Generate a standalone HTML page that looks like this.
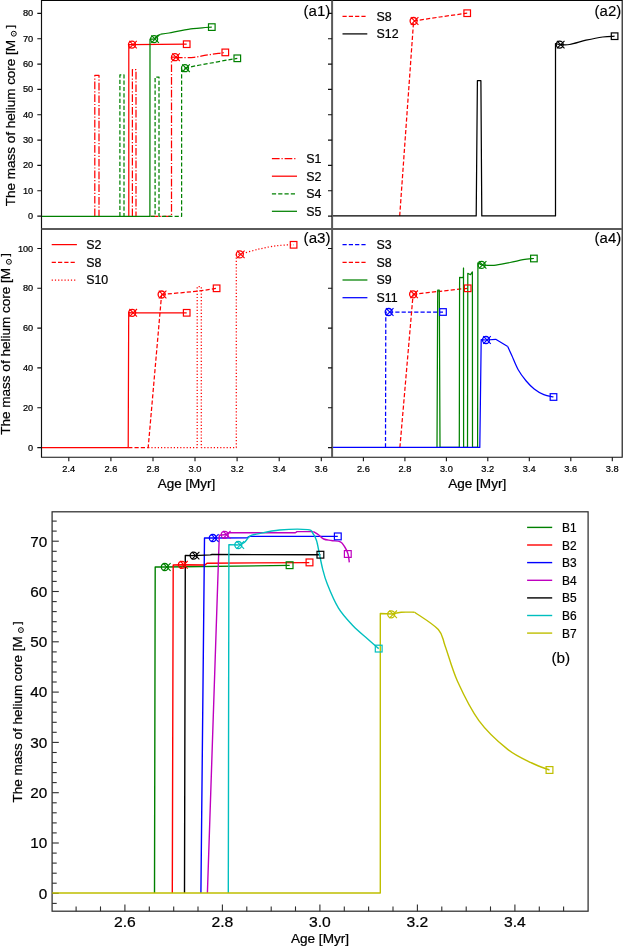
<!DOCTYPE html><html><head><meta charset="utf-8"><style>html,body{margin:0;padding:0;background:#fff;overflow:hidden;}svg{display:block;will-change:transform;} text{font-family:"Liberation Sans", sans-serif;stroke:#000;stroke-width:0.22px;}</style></head><body>
<svg width="623" height="946" viewBox="0 0 623 946">
<rect width="623" height="946" fill="#fff"/>
<defs>
<clipPath id="c1"><rect x="41.5" y="0.5" width="290.6" height="228.5"/></clipPath>
<clipPath id="c2"><rect x="332.1" y="0.5" width="290.1" height="228.5"/></clipPath>
<clipPath id="c3"><rect x="41.5" y="229.0" width="290.6" height="228.2"/></clipPath>
<clipPath id="c4"><rect x="332.1" y="229.0" width="290.1" height="228.2"/></clipPath>
<clipPath id="cb"><rect x="52.1" y="511.8" width="536" height="399.4"/></clipPath>
</defs>
<path d="M94.8,216.3 L94.8,75.4 L99.0,75.4 L99.0,216.3" fill="none" stroke="#ff0000" stroke-width="1.25" stroke-linejoin="round" stroke-dasharray="7.7,1.9,1.2,1.9" clip-path="url(#c1)"/>
<path d="M132.4,216.3 L132.4,69.6 L136.0,69.6 L136.0,216.3" fill="none" stroke="#ff0000" stroke-width="1.25" stroke-linejoin="round" stroke-dasharray="7.7,1.9,1.2,1.9" clip-path="url(#c1)"/>
<path d="M150.6,216.3 L171.5,216.3 L171.5,57.2 L175.0,57.2" fill="none" stroke="#ff0000" stroke-width="1.25" stroke-linejoin="round" stroke-dasharray="7.7,1.9,1.2,1.9" clip-path="url(#c1)"/>
<path d="M175.0,57.2 C176.2,57.3 178.8,57.6 182.0,57.6 C185.2,57.6 190.0,57.7 194.0,57.3 C198.0,56.9 202.1,55.9 206.1,55.2 C210.1,54.6 215.0,53.9 218.2,53.4 C221.4,52.9 224.1,52.6 225.3,52.5" fill="none" stroke="#ff0000" stroke-width="1.25" stroke-linejoin="round" stroke-dasharray="7.7,1.9,1.2,1.9" clip-path="url(#c1)"/>
<path d="M128.8,216.3 L128.8,44.6 L132.0,44.6 L186.7,44.2" fill="none" stroke="#ff0000" stroke-width="1.25" stroke-linejoin="round" clip-path="url(#c1)"/>
<path d="M119.9,216.3 L119.9,74.9 L124.0,74.9 L124.0,216.3" fill="none" stroke="#008000" stroke-width="1.25" stroke-linejoin="round" stroke-dasharray="4.2,2.1" clip-path="url(#c1)"/>
<path d="M150.6,216.3 L155.1,216.3 L155.1,77.1 L159.0,77.1 L159.0,216.3 L181.6,216.3 L181.6,68.4 L185.0,68.2" fill="none" stroke="#008000" stroke-width="1.25" stroke-linejoin="round" stroke-dasharray="4.2,2.1" clip-path="url(#c1)"/>
<path d="M185.0,68.2 C187.5,67.7 191.3,66.7 200.0,65.0 C208.7,63.4 231.1,59.4 237.3,58.3" fill="none" stroke="#008000" stroke-width="1.25" stroke-linejoin="round" stroke-dasharray="4.2,2.1" clip-path="url(#c1)"/>
<path d="M41.5,216.3 L149.9,216.3 L150.0,39.2 L154.1,39.1" fill="none" stroke="#008000" stroke-width="1.25" stroke-linejoin="round" clip-path="url(#c1)"/>
<path d="M154.1,39.1 L157.0,35.8 L160.6,34.3" fill="none" stroke="#008000" stroke-width="1.25" stroke-linejoin="round" clip-path="url(#c1)"/>
<path d="M160.6,34.3 C162.0,34.1 165.6,33.6 169.0,33.0 C172.4,32.4 177.1,31.3 181.1,30.6 C185.1,29.9 189.1,29.2 193.1,28.7 C197.1,28.2 202.1,27.8 205.2,27.5 C208.3,27.2 210.7,27.2 211.8,27.2" fill="none" stroke="#008000" stroke-width="1.25" stroke-linejoin="round" clip-path="url(#c1)"/>
<circle cx="175.0" cy="57.2" r="3.5" fill="none" stroke="#ff0000" stroke-width="1.3"/>
<path d="M172.2,53.4 L179.8,61.0 M172.2,61.0 L179.8,53.4" stroke="#ff0000" stroke-width="1.105" fill="none"/>
<rect x="222.0" y="49.1" width="6.6" height="6.6" fill="none" stroke="#ff0000" stroke-width="1.2"/>
<circle cx="132.0" cy="44.6" r="3.5" fill="none" stroke="#ff0000" stroke-width="1.3"/>
<path d="M129.2,40.8 L136.8,48.4 M129.2,48.4 L136.8,40.8" stroke="#ff0000" stroke-width="1.105" fill="none"/>
<rect x="183.4" y="40.9" width="6.6" height="6.6" fill="none" stroke="#ff0000" stroke-width="1.2"/>
<circle cx="185.0" cy="68.2" r="3.5" fill="none" stroke="#008000" stroke-width="1.3"/>
<path d="M182.2,64.4 L189.8,72.0 M182.2,72.0 L189.8,64.4" stroke="#008000" stroke-width="1.105" fill="none"/>
<rect x="234.0" y="55.0" width="6.6" height="6.6" fill="none" stroke="#008000" stroke-width="1.2"/>
<circle cx="154.1" cy="39.1" r="3.5" fill="none" stroke="#008000" stroke-width="1.3"/>
<path d="M151.3,35.3 L158.9,42.9 M151.3,42.9 L158.9,35.3" stroke="#008000" stroke-width="1.105" fill="none"/>
<rect x="208.5" y="23.8" width="6.6" height="6.6" fill="none" stroke="#008000" stroke-width="1.2"/>
<path d="M399.7,215.9 L413.6,21.0" fill="none" stroke="#ff0000" stroke-width="1.25" stroke-linejoin="round" stroke-dasharray="4.2,2.1" clip-path="url(#c2)"/>
<path d="M413.6,21.0 C418.0,20.3 431.1,18.3 440.0,17.0 C448.9,15.7 462.7,13.8 467.2,13.2" fill="none" stroke="#ff0000" stroke-width="1.25" stroke-linejoin="round" stroke-dasharray="4.2,2.1" clip-path="url(#c2)"/>
<path d="M332.1,215.9 L476.2,215.9 L477.4,80.7 L480.9,80.7 L481.8,215.9 L555.5,215.9 L555.5,43.5 L559.7,44.6" fill="none" stroke="#000000" stroke-width="1.25" stroke-linejoin="round" clip-path="url(#c2)"/>
<path d="M559.7,44.6 C561.4,44.6 565.2,45.2 569.6,44.5 C574.0,43.8 580.5,41.5 586.0,40.2 C591.5,39.0 597.9,37.7 602.7,37.0 C607.5,36.3 612.6,36.3 614.6,36.2" fill="none" stroke="#000000" stroke-width="1.25" stroke-linejoin="round" clip-path="url(#c2)"/>
<circle cx="413.6" cy="21.0" r="3.5" fill="none" stroke="#ff0000" stroke-width="1.3"/>
<path d="M410.8,17.2 L418.4,24.8 M410.8,24.8 L418.4,17.2" stroke="#ff0000" stroke-width="1.105" fill="none"/>
<rect x="463.9" y="9.9" width="6.6" height="6.6" fill="none" stroke="#ff0000" stroke-width="1.2"/>
<circle cx="559.7" cy="44.6" r="3.5" fill="none" stroke="#000000" stroke-width="1.3"/>
<path d="M556.9,40.8 L564.5,48.4 M556.9,48.4 L564.5,40.8" stroke="#000000" stroke-width="1.105" fill="none"/>
<rect x="611.3" y="32.9" width="6.6" height="6.6" fill="none" stroke="#000000" stroke-width="1.2"/>
<path d="M41.5,447.5 L128.2,447.5 L128.7,312.6 L132.2,312.8 L186.7,312.8" fill="none" stroke="#ff0000" stroke-width="1.25" stroke-linejoin="round" clip-path="url(#c3)"/>
<path d="M128.2,447.5 L148.2,447.5 L161.6,294.5" fill="none" stroke="#ff0000" stroke-width="1.25" stroke-linejoin="round" stroke-dasharray="4.2,2.1" clip-path="url(#c3)"/>
<path d="M161.6,294.5 C167.6,293.9 188.1,292.2 197.3,291.2 C206.5,290.2 213.4,288.8 216.6,288.3" fill="none" stroke="#ff0000" stroke-width="1.25" stroke-linejoin="round" stroke-dasharray="4.2,2.1" clip-path="url(#c3)"/>
<path d="M148.2,447.5 L197.2,447.5 L197.2,286.7 L201.3,286.7 L201.3,447.5 L236.3,447.5 L236.3,254.4 L239.8,254.4" fill="none" stroke="#ff0000" stroke-width="1.25" stroke-linejoin="round" stroke-dasharray="1.2,2.0" clip-path="url(#c3)"/>
<path d="M239.8,254.4 C242.9,253.5 252.2,250.7 258.5,249.2 C264.8,247.7 271.9,246.3 277.8,245.6 C283.7,244.9 291.0,244.9 293.6,244.8" fill="none" stroke="#ff0000" stroke-width="1.25" stroke-linejoin="round" stroke-dasharray="1.2,2.0" clip-path="url(#c3)"/>
<circle cx="132.2" cy="312.8" r="3.5" fill="none" stroke="#ff0000" stroke-width="1.3"/>
<path d="M129.4,309.0 L137.0,316.6 M129.4,316.6 L137.0,309.0" stroke="#ff0000" stroke-width="1.105" fill="none"/>
<rect x="183.4" y="309.5" width="6.6" height="6.6" fill="none" stroke="#ff0000" stroke-width="1.2"/>
<circle cx="161.6" cy="294.5" r="3.5" fill="none" stroke="#ff0000" stroke-width="1.3"/>
<path d="M158.8,290.7 L166.4,298.3 M158.8,298.3 L166.4,290.7" stroke="#ff0000" stroke-width="1.105" fill="none"/>
<rect x="213.3" y="285.0" width="6.6" height="6.6" fill="none" stroke="#ff0000" stroke-width="1.2"/>
<circle cx="239.8" cy="254.4" r="3.5" fill="none" stroke="#ff0000" stroke-width="1.3"/>
<path d="M237.0,250.6 L244.6,258.2 M237.0,258.2 L244.6,250.6" stroke="#ff0000" stroke-width="1.105" fill="none"/>
<rect x="290.3" y="241.5" width="6.6" height="6.6" fill="none" stroke="#ff0000" stroke-width="1.2"/>
<path d="M385.5,447.4 L385.8,312.0 L388.7,312.0 L443.0,312.0" fill="none" stroke="#0000ff" stroke-width="1.25" stroke-linejoin="round" stroke-dasharray="4.2,2.1" clip-path="url(#c4)"/>
<path d="M399.9,447.4 L413.1,294.3" fill="none" stroke="#ff0000" stroke-width="1.25" stroke-linejoin="round" stroke-dasharray="4.2,2.1" clip-path="url(#c4)"/>
<path d="M413.1,294.3 C417.6,293.8 430.9,292.3 440.0,291.3 C449.1,290.3 463.1,288.8 467.7,288.3" fill="none" stroke="#ff0000" stroke-width="1.25" stroke-linejoin="round" stroke-dasharray="4.2,2.1" clip-path="url(#c4)"/>
<path d="M437.0,447.4 L437.7,290.2 L439.3,290.2 L440.0,447.4 L459.3,447.4 L459.6,277.4 L462.4,277.6 L463.4,276.6 L463.5,268.0 L463.6,447.4 L467.5,447.4 L467.8,273.3 L470.5,274.7 L472.4,271.9 L472.5,447.4 L477.6,447.4 L477.9,262.9 L481.6,264.9" fill="none" stroke="#008000" stroke-width="1.25" stroke-linejoin="round" clip-path="url(#c4)"/>
<path d="M481.6,264.9 C483.7,265.0 489.3,265.8 494.0,265.4 C498.7,265.0 505.2,263.4 510.0,262.5 C514.8,261.6 519.0,260.4 523.0,259.7 C527.0,259.0 532.1,258.7 533.9,258.5" fill="none" stroke="#008000" stroke-width="1.25" stroke-linejoin="round" clip-path="url(#c4)"/>
<path d="M332.1,447.4 L479.8,447.4 L481.2,339.6 L486.0,340.0" fill="none" stroke="#0000ff" stroke-width="1.25" stroke-linejoin="round" clip-path="url(#c4)"/>
<path d="M486.0,340.0 L495.7,339.3 L507.7,346.5" fill="none" stroke="#0000ff" stroke-width="1.25" stroke-linejoin="round" clip-path="url(#c4)"/>
<path d="M507.7,346.5 C508.4,348.0 509.9,351.4 511.7,355.3 C513.5,359.2 515.8,365.5 518.2,369.8 C520.6,374.1 523.5,377.8 526.2,381.0 C528.9,384.2 531.3,386.7 534.2,389.0 C537.1,391.3 540.6,393.3 543.8,394.6 C547.0,395.9 551.9,396.6 553.5,397.0" fill="none" stroke="#0000ff" stroke-width="1.25" stroke-linejoin="round" clip-path="url(#c4)"/>
<circle cx="388.7" cy="312.0" r="3.5" fill="none" stroke="#0000ff" stroke-width="1.3"/>
<path d="M385.9,308.2 L393.5,315.8 M385.9,315.8 L393.5,308.2" stroke="#0000ff" stroke-width="1.105" fill="none"/>
<rect x="439.7" y="308.7" width="6.6" height="6.6" fill="none" stroke="#0000ff" stroke-width="1.2"/>
<circle cx="413.1" cy="294.3" r="3.5" fill="none" stroke="#ff0000" stroke-width="1.3"/>
<path d="M410.3,290.5 L417.9,298.1 M410.3,298.1 L417.9,290.5" stroke="#ff0000" stroke-width="1.105" fill="none"/>
<rect x="464.4" y="285.0" width="6.6" height="6.6" fill="none" stroke="#ff0000" stroke-width="1.2"/>
<circle cx="481.6" cy="264.9" r="3.5" fill="none" stroke="#008000" stroke-width="1.3"/>
<path d="M478.8,261.1 L486.4,268.7 M478.8,268.7 L486.4,261.1" stroke="#008000" stroke-width="1.105" fill="none"/>
<rect x="530.6" y="255.2" width="6.6" height="6.6" fill="none" stroke="#008000" stroke-width="1.2"/>
<circle cx="486.0" cy="340.0" r="3.5" fill="none" stroke="#0000ff" stroke-width="1.3"/>
<path d="M483.2,336.2 L490.8,343.8 M483.2,343.8 L490.8,336.2" stroke="#0000ff" stroke-width="1.105" fill="none"/>
<rect x="550.2" y="393.7" width="6.6" height="6.6" fill="none" stroke="#0000ff" stroke-width="1.2"/>
<path d="M41.5,0.5 L622.2,0.5 L622.2,457.2 L41.5,457.2 Z" fill="none" stroke="#111" stroke-width="1.15"/>
<path d="M41.5,0 L622.2,0.0" stroke="#000" stroke-width="1.6"/>
<path d="M332.1,0.5 L332.1,457.2 M41.5,229.0 L622.2,229.0" stroke="#5a5a5a" stroke-width="2"/>
<path d="M37.3,216.1 L41.5,216.1 M328,216.1 L332.1,216.1" stroke="#111" stroke-width="1.1"/>
<text x="33.2" y="219.1" font-size="9.00" text-anchor="end" fill="#000" textLength="5.1" lengthAdjust="spacingAndGlyphs">0</text>
<path d="M37.3,190.8 L41.5,190.8 M328,190.8 L332.1,190.8" stroke="#111" stroke-width="1.1"/>
<text x="33.2" y="193.8" font-size="9.00" text-anchor="end" fill="#000" textLength="10.3" lengthAdjust="spacingAndGlyphs">10</text>
<path d="M37.3,165.4 L41.5,165.4 M328,165.4 L332.1,165.4" stroke="#111" stroke-width="1.1"/>
<text x="33.2" y="168.4" font-size="9.00" text-anchor="end" fill="#000" textLength="10.3" lengthAdjust="spacingAndGlyphs">20</text>
<path d="M37.3,140.1 L41.5,140.1 M328,140.1 L332.1,140.1" stroke="#111" stroke-width="1.1"/>
<text x="33.2" y="143.1" font-size="9.00" text-anchor="end" fill="#000" textLength="10.3" lengthAdjust="spacingAndGlyphs">30</text>
<path d="M37.3,114.7 L41.5,114.7 M328,114.7 L332.1,114.7" stroke="#111" stroke-width="1.1"/>
<text x="33.2" y="117.7" font-size="9.00" text-anchor="end" fill="#000" textLength="10.3" lengthAdjust="spacingAndGlyphs">40</text>
<path d="M37.3,89.4 L41.5,89.4 M328,89.4 L332.1,89.4" stroke="#111" stroke-width="1.1"/>
<text x="33.2" y="92.4" font-size="9.00" text-anchor="end" fill="#000" textLength="10.3" lengthAdjust="spacingAndGlyphs">50</text>
<path d="M37.3,64.1 L41.5,64.1 M328,64.1 L332.1,64.1" stroke="#111" stroke-width="1.1"/>
<text x="33.2" y="67.1" font-size="9.00" text-anchor="end" fill="#000" textLength="10.3" lengthAdjust="spacingAndGlyphs">60</text>
<path d="M37.3,38.7 L41.5,38.7 M328,38.7 L332.1,38.7" stroke="#111" stroke-width="1.1"/>
<text x="33.2" y="41.7" font-size="9.00" text-anchor="end" fill="#000" textLength="10.3" lengthAdjust="spacingAndGlyphs">70</text>
<path d="M37.3,13.4 L41.5,13.4 M328,13.4 L332.1,13.4" stroke="#111" stroke-width="1.1"/>
<text x="33.2" y="16.4" font-size="9.00" text-anchor="end" fill="#000" textLength="10.3" lengthAdjust="spacingAndGlyphs">80</text>
<path d="M37.3,447.6 L41.5,447.6 M328,447.6 L332.1,447.6" stroke="#111" stroke-width="1.1"/>
<text x="33.2" y="450.6" font-size="9.00" text-anchor="end" fill="#000" textLength="5.1" lengthAdjust="spacingAndGlyphs">0</text>
<path d="M37.3,407.8 L41.5,407.8 M328,407.8 L332.1,407.8" stroke="#111" stroke-width="1.1"/>
<text x="33.2" y="410.8" font-size="9.00" text-anchor="end" fill="#000" textLength="10.2" lengthAdjust="spacingAndGlyphs">20</text>
<path d="M37.3,367.9 L41.5,367.9 M328,367.9 L332.1,367.9" stroke="#111" stroke-width="1.1"/>
<text x="33.2" y="370.9" font-size="9.00" text-anchor="end" fill="#000" textLength="10.2" lengthAdjust="spacingAndGlyphs">40</text>
<path d="M37.3,328.1 L41.5,328.1 M328,328.1 L332.1,328.1" stroke="#111" stroke-width="1.1"/>
<text x="33.2" y="331.1" font-size="9.00" text-anchor="end" fill="#000" textLength="10.2" lengthAdjust="spacingAndGlyphs">60</text>
<path d="M37.3,288.3 L41.5,288.3 M328,288.3 L332.1,288.3" stroke="#111" stroke-width="1.1"/>
<text x="33.2" y="291.3" font-size="9.00" text-anchor="end" fill="#000" textLength="10.2" lengthAdjust="spacingAndGlyphs">80</text>
<path d="M37.3,248.5 L41.5,248.5 M328,248.5 L332.1,248.5" stroke="#111" stroke-width="1.1"/>
<text x="33.2" y="251.5" font-size="9.00" text-anchor="end" fill="#000" textLength="15.3" lengthAdjust="spacingAndGlyphs">100</text>
<path d="M68.8,457.2 L68.8,461.3" stroke="#111" stroke-width="1.1"/>
<text x="68.8" y="472.3" font-size="9.00" text-anchor="middle" fill="#000" textLength="12.9" lengthAdjust="spacingAndGlyphs">2.4</text>
<path d="M110.9,457.2 L110.9,461.3" stroke="#111" stroke-width="1.1"/>
<text x="110.9" y="472.3" font-size="9.00" text-anchor="middle" fill="#000" textLength="12.9" lengthAdjust="spacingAndGlyphs">2.6</text>
<path d="M153.0,457.2 L153.0,461.3" stroke="#111" stroke-width="1.1"/>
<text x="153.0" y="472.3" font-size="9.00" text-anchor="middle" fill="#000" textLength="12.9" lengthAdjust="spacingAndGlyphs">2.8</text>
<path d="M195.0,457.2 L195.0,461.3" stroke="#111" stroke-width="1.1"/>
<text x="195.0" y="472.3" font-size="9.00" text-anchor="middle" fill="#000" textLength="12.9" lengthAdjust="spacingAndGlyphs">3.0</text>
<path d="M237.1,457.2 L237.1,461.3" stroke="#111" stroke-width="1.1"/>
<text x="237.1" y="472.3" font-size="9.00" text-anchor="middle" fill="#000" textLength="12.9" lengthAdjust="spacingAndGlyphs">3.2</text>
<path d="M279.2,457.2 L279.2,461.3" stroke="#111" stroke-width="1.1"/>
<text x="279.2" y="472.3" font-size="9.00" text-anchor="middle" fill="#000" textLength="12.9" lengthAdjust="spacingAndGlyphs">3.4</text>
<path d="M321.3,457.2 L321.3,461.3" stroke="#111" stroke-width="1.1"/>
<text x="321.3" y="472.3" font-size="9.00" text-anchor="middle" fill="#000" textLength="12.9" lengthAdjust="spacingAndGlyphs">3.6</text>
<path d="M363.4,457.2 L363.4,461.3" stroke="#111" stroke-width="1.1"/>
<text x="363.4" y="472.3" font-size="9.00" text-anchor="middle" fill="#000" textLength="12.9" lengthAdjust="spacingAndGlyphs">2.6</text>
<path d="M404.9,457.2 L404.9,461.3" stroke="#111" stroke-width="1.1"/>
<text x="404.9" y="472.3" font-size="9.00" text-anchor="middle" fill="#000" textLength="12.9" lengthAdjust="spacingAndGlyphs">2.8</text>
<path d="M446.4,457.2 L446.4,461.3" stroke="#111" stroke-width="1.1"/>
<text x="446.4" y="472.3" font-size="9.00" text-anchor="middle" fill="#000" textLength="12.9" lengthAdjust="spacingAndGlyphs">3.0</text>
<path d="M487.8,457.2 L487.8,461.3" stroke="#111" stroke-width="1.1"/>
<text x="487.8" y="472.3" font-size="9.00" text-anchor="middle" fill="#000" textLength="12.9" lengthAdjust="spacingAndGlyphs">3.2</text>
<path d="M529.3,457.2 L529.3,461.3" stroke="#111" stroke-width="1.1"/>
<text x="529.3" y="472.3" font-size="9.00" text-anchor="middle" fill="#000" textLength="12.9" lengthAdjust="spacingAndGlyphs">3.4</text>
<path d="M570.8,457.2 L570.8,461.3" stroke="#111" stroke-width="1.1"/>
<text x="570.8" y="472.3" font-size="9.00" text-anchor="middle" fill="#000" textLength="12.9" lengthAdjust="spacingAndGlyphs">3.6</text>
<path d="M612.3,457.2 L612.3,461.3" stroke="#111" stroke-width="1.1"/>
<text x="612.3" y="472.3" font-size="9.00" text-anchor="middle" fill="#000" textLength="12.9" lengthAdjust="spacingAndGlyphs">3.8</text>
<text x="186.5" y="488.0" font-size="12.30" text-anchor="middle" fill="#000" textLength="57.7" lengthAdjust="spacingAndGlyphs">Age [Myr]</text>
<text x="477.2" y="488.0" font-size="12.30" text-anchor="middle" fill="#000" textLength="58.1" lengthAdjust="spacingAndGlyphs">Age [Myr]</text>
<g transform="translate(14.8,206.3) rotate(-90)">
<text x="0" y="0" font-size="12.30" textLength="166.4" lengthAdjust="spacingAndGlyphs">The mass of helium core [M</text>
<circle cx="172.6" cy="-1.0" r="2.45" fill="none" stroke="#000" stroke-width="1.0"/>
<circle cx="172.6" cy="-1.0" r="0.75" fill="#000" opacity="0.6"/>
<text x="178.0" y="-0.6" font-size="11.81" textLength="3.2" lengthAdjust="spacingAndGlyphs">]</text>
</g>
<g transform="translate(9.9,434.7) rotate(-90)">
<text x="0" y="0" font-size="12.30" textLength="166.7" lengthAdjust="spacingAndGlyphs">The mass of helium core [M</text>
<circle cx="172.9" cy="-1.0" r="2.45" fill="none" stroke="#000" stroke-width="1.0"/>
<circle cx="172.9" cy="-1.0" r="0.75" fill="#000" opacity="0.6"/>
<text x="178.3" y="-0.6" font-size="11.81" textLength="3.2" lengthAdjust="spacingAndGlyphs">]</text>
</g>
<path d="M271.9,158.6 L297.0,158.6" stroke="#ff0000" stroke-width="1.25" stroke-dasharray="7.7,1.9,1.2,1.9"/>
<text x="306.2" y="163.0" font-size="12.40" text-anchor="start" fill="#000">S1</text>
<path d="M271.9,176.2 L297.0,176.2" stroke="#ff0000" stroke-width="1.25"/>
<text x="306.2" y="180.6" font-size="12.40" text-anchor="start" fill="#000">S2</text>
<path d="M271.9,193.9 L297.0,193.9" stroke="#008000" stroke-width="1.25" stroke-dasharray="4.2,2.1"/>
<text x="306.2" y="198.3" font-size="12.40" text-anchor="start" fill="#000">S4</text>
<path d="M271.9,211.3 L297.0,211.3" stroke="#008000" stroke-width="1.25"/>
<text x="306.2" y="215.7" font-size="12.40" text-anchor="start" fill="#000">S5</text>
<path d="M342.5,16.4 L367.3,16.4" stroke="#ff0000" stroke-width="1.25" stroke-dasharray="4.2,2.1"/>
<text x="376.5" y="20.8" font-size="12.40" text-anchor="start" fill="#000">S8</text>
<path d="M342.5,33.9 L367.3,33.9" stroke="#000000" stroke-width="1.25"/>
<text x="376.5" y="38.3" font-size="12.40" text-anchor="start" fill="#000">S12</text>
<path d="M51.7,244.6 L76.9,244.6" stroke="#ff0000" stroke-width="1.25"/>
<text x="86.2" y="249.0" font-size="12.40" text-anchor="start" fill="#000">S2</text>
<path d="M51.7,262.4 L76.9,262.4" stroke="#ff0000" stroke-width="1.25" stroke-dasharray="4.2,2.1"/>
<text x="86.2" y="266.8" font-size="12.40" text-anchor="start" fill="#000">S8</text>
<path d="M51.7,280.0 L76.9,280.0" stroke="#ff0000" stroke-width="1.25" stroke-dasharray="1.2,2.0"/>
<text x="86.2" y="284.4" font-size="12.40" text-anchor="start" fill="#000">S10</text>
<path d="M342.5,244.7 L367.4,244.7" stroke="#0000ff" stroke-width="1.25" stroke-dasharray="4.2,2.1"/>
<text x="376.5" y="249.1" font-size="12.40" text-anchor="start" fill="#000">S3</text>
<path d="M342.5,262.4 L367.4,262.4" stroke="#ff0000" stroke-width="1.25" stroke-dasharray="4.2,2.1"/>
<text x="376.5" y="266.8" font-size="12.40" text-anchor="start" fill="#000">S8</text>
<path d="M342.5,280.0 L367.4,280.0" stroke="#008000" stroke-width="1.25"/>
<text x="376.5" y="284.4" font-size="12.40" text-anchor="start" fill="#000">S9</text>
<path d="M342.5,297.7 L367.4,297.7" stroke="#0000ff" stroke-width="1.25"/>
<text x="376.5" y="302.1" font-size="12.40" text-anchor="start" fill="#000">S11</text>
<text x="303.6" y="15.5" font-size="14.00" text-anchor="start" fill="#000" textLength="26.8" lengthAdjust="spacingAndGlyphs" style="stroke-width:0.12px">(a1)</text>
<text x="594.6" y="15.6" font-size="14.00" text-anchor="start" fill="#000" textLength="26.6" lengthAdjust="spacingAndGlyphs" style="stroke-width:0.12px">(a2)</text>
<text x="303.6" y="242.8" font-size="14.00" text-anchor="start" fill="#000" textLength="26.9" lengthAdjust="spacingAndGlyphs" style="stroke-width:0.12px">(a3)</text>
<text x="594.6" y="242.8" font-size="14.00" text-anchor="start" fill="#000" textLength="26.6" lengthAdjust="spacingAndGlyphs" style="stroke-width:0.12px">(a4)</text>
<rect x="52.1" y="511.8" width="536.0" height="399.4" fill="none" stroke="#2e2e2e" stroke-width="1.25"/>
<path d="M52.1,903.4 L56.7,903.4" stroke="#2e2e2e" stroke-width="1.1"/>
<path d="M52.1,893.3 L58.8,893.3" stroke="#2e2e2e" stroke-width="1.1"/>
<text x="47.3" y="898.6" font-size="14.80" text-anchor="end" fill="#000" textLength="8.5" lengthAdjust="spacingAndGlyphs">0</text>
<path d="M52.1,883.2 L56.7,883.2" stroke="#2e2e2e" stroke-width="1.1"/>
<path d="M52.1,873.2 L56.7,873.2" stroke="#2e2e2e" stroke-width="1.1"/>
<path d="M52.1,863.1 L56.7,863.1" stroke="#2e2e2e" stroke-width="1.1"/>
<path d="M52.1,853.1 L56.7,853.1" stroke="#2e2e2e" stroke-width="1.1"/>
<path d="M52.1,843.0 L58.8,843.0" stroke="#2e2e2e" stroke-width="1.1"/>
<text x="47.3" y="848.3" font-size="14.80" text-anchor="end" fill="#000" textLength="17.0" lengthAdjust="spacingAndGlyphs">10</text>
<path d="M52.1,832.9 L56.7,832.9" stroke="#2e2e2e" stroke-width="1.1"/>
<path d="M52.1,822.9 L56.7,822.9" stroke="#2e2e2e" stroke-width="1.1"/>
<path d="M52.1,812.8 L56.7,812.8" stroke="#2e2e2e" stroke-width="1.1"/>
<path d="M52.1,802.8 L56.7,802.8" stroke="#2e2e2e" stroke-width="1.1"/>
<path d="M52.1,792.7 L58.8,792.7" stroke="#2e2e2e" stroke-width="1.1"/>
<text x="47.3" y="798.0" font-size="14.80" text-anchor="end" fill="#000" textLength="17.0" lengthAdjust="spacingAndGlyphs">20</text>
<path d="M52.1,782.6 L56.7,782.6" stroke="#2e2e2e" stroke-width="1.1"/>
<path d="M52.1,772.6 L56.7,772.6" stroke="#2e2e2e" stroke-width="1.1"/>
<path d="M52.1,762.5 L56.7,762.5" stroke="#2e2e2e" stroke-width="1.1"/>
<path d="M52.1,752.5 L56.7,752.5" stroke="#2e2e2e" stroke-width="1.1"/>
<path d="M52.1,742.4 L58.8,742.4" stroke="#2e2e2e" stroke-width="1.1"/>
<text x="47.3" y="747.7" font-size="14.80" text-anchor="end" fill="#000" textLength="17.0" lengthAdjust="spacingAndGlyphs">30</text>
<path d="M52.1,732.3 L56.7,732.3" stroke="#2e2e2e" stroke-width="1.1"/>
<path d="M52.1,722.3 L56.7,722.3" stroke="#2e2e2e" stroke-width="1.1"/>
<path d="M52.1,712.2 L56.7,712.2" stroke="#2e2e2e" stroke-width="1.1"/>
<path d="M52.1,702.2 L56.7,702.2" stroke="#2e2e2e" stroke-width="1.1"/>
<path d="M52.1,692.1 L58.8,692.1" stroke="#2e2e2e" stroke-width="1.1"/>
<text x="47.3" y="697.4" font-size="14.80" text-anchor="end" fill="#000" textLength="17.0" lengthAdjust="spacingAndGlyphs">40</text>
<path d="M52.1,682.0 L56.7,682.0" stroke="#2e2e2e" stroke-width="1.1"/>
<path d="M52.1,672.0 L56.7,672.0" stroke="#2e2e2e" stroke-width="1.1"/>
<path d="M52.1,661.9 L56.7,661.9" stroke="#2e2e2e" stroke-width="1.1"/>
<path d="M52.1,651.9 L56.7,651.9" stroke="#2e2e2e" stroke-width="1.1"/>
<path d="M52.1,641.8 L58.8,641.8" stroke="#2e2e2e" stroke-width="1.1"/>
<text x="47.3" y="647.1" font-size="14.80" text-anchor="end" fill="#000" textLength="17.0" lengthAdjust="spacingAndGlyphs">50</text>
<path d="M52.1,631.7 L56.7,631.7" stroke="#2e2e2e" stroke-width="1.1"/>
<path d="M52.1,621.7 L56.7,621.7" stroke="#2e2e2e" stroke-width="1.1"/>
<path d="M52.1,611.6 L56.7,611.6" stroke="#2e2e2e" stroke-width="1.1"/>
<path d="M52.1,601.6 L56.7,601.6" stroke="#2e2e2e" stroke-width="1.1"/>
<path d="M52.1,591.5 L58.8,591.5" stroke="#2e2e2e" stroke-width="1.1"/>
<text x="47.3" y="596.8" font-size="14.80" text-anchor="end" fill="#000" textLength="17.0" lengthAdjust="spacingAndGlyphs">60</text>
<path d="M52.1,581.4 L56.7,581.4" stroke="#2e2e2e" stroke-width="1.1"/>
<path d="M52.1,571.4 L56.7,571.4" stroke="#2e2e2e" stroke-width="1.1"/>
<path d="M52.1,561.3 L56.7,561.3" stroke="#2e2e2e" stroke-width="1.1"/>
<path d="M52.1,551.3 L56.7,551.3" stroke="#2e2e2e" stroke-width="1.1"/>
<path d="M52.1,541.2 L58.8,541.2" stroke="#2e2e2e" stroke-width="1.1"/>
<text x="47.3" y="546.5" font-size="14.80" text-anchor="end" fill="#000" textLength="17.0" lengthAdjust="spacingAndGlyphs">70</text>
<path d="M52.1,531.1 L56.7,531.1" stroke="#2e2e2e" stroke-width="1.1"/>
<path d="M52.1,521.1 L56.7,521.1" stroke="#2e2e2e" stroke-width="1.1"/>
<path d="M76.1,911.2 L76.1,906.4" stroke="#2e2e2e" stroke-width="1.1"/>
<path d="M100.5,911.2 L100.5,906.4" stroke="#2e2e2e" stroke-width="1.1"/>
<path d="M124.9,911.2 L124.9,904.5" stroke="#2e2e2e" stroke-width="1.1"/>
<text x="124.9" y="926.8" font-size="14.80" text-anchor="middle" fill="#000" textLength="21.8" lengthAdjust="spacingAndGlyphs">2.6</text>
<path d="M149.3,911.2 L149.3,906.4" stroke="#2e2e2e" stroke-width="1.1"/>
<path d="M173.7,911.2 L173.7,906.4" stroke="#2e2e2e" stroke-width="1.1"/>
<path d="M198.0,911.2 L198.0,906.4" stroke="#2e2e2e" stroke-width="1.1"/>
<path d="M222.4,911.2 L222.4,904.5" stroke="#2e2e2e" stroke-width="1.1"/>
<text x="222.4" y="926.8" font-size="14.80" text-anchor="middle" fill="#000" textLength="21.8" lengthAdjust="spacingAndGlyphs">2.8</text>
<path d="M246.8,911.2 L246.8,906.4" stroke="#2e2e2e" stroke-width="1.1"/>
<path d="M271.2,911.2 L271.2,906.4" stroke="#2e2e2e" stroke-width="1.1"/>
<path d="M295.5,911.2 L295.5,906.4" stroke="#2e2e2e" stroke-width="1.1"/>
<path d="M319.9,911.2 L319.9,904.5" stroke="#2e2e2e" stroke-width="1.1"/>
<text x="319.9" y="926.8" font-size="14.80" text-anchor="middle" fill="#000" textLength="21.8" lengthAdjust="spacingAndGlyphs">3.0</text>
<path d="M344.3,911.2 L344.3,906.4" stroke="#2e2e2e" stroke-width="1.1"/>
<path d="M368.6,911.2 L368.6,906.4" stroke="#2e2e2e" stroke-width="1.1"/>
<path d="M393.0,911.2 L393.0,906.4" stroke="#2e2e2e" stroke-width="1.1"/>
<path d="M417.4,911.2 L417.4,904.5" stroke="#2e2e2e" stroke-width="1.1"/>
<text x="417.4" y="926.8" font-size="14.80" text-anchor="middle" fill="#000" textLength="21.8" lengthAdjust="spacingAndGlyphs">3.2</text>
<path d="M441.8,911.2 L441.8,906.4" stroke="#2e2e2e" stroke-width="1.1"/>
<path d="M466.2,911.2 L466.2,906.4" stroke="#2e2e2e" stroke-width="1.1"/>
<path d="M490.5,911.2 L490.5,906.4" stroke="#2e2e2e" stroke-width="1.1"/>
<path d="M514.9,911.2 L514.9,904.5" stroke="#2e2e2e" stroke-width="1.1"/>
<text x="514.9" y="926.8" font-size="14.80" text-anchor="middle" fill="#000" textLength="21.8" lengthAdjust="spacingAndGlyphs">3.4</text>
<path d="M539.3,911.2 L539.3,906.4" stroke="#2e2e2e" stroke-width="1.1"/>
<path d="M563.6,911.2 L563.6,906.4" stroke="#2e2e2e" stroke-width="1.1"/>
<path d="M154.5,893.0 L155.2,567.0 L164.8,567.0 L289.7,565.4" fill="none" stroke="#008000" stroke-width="1.4" stroke-linejoin="round" clip-path="url(#cb)"/>
<path d="M172.3,893.0 L173.2,565.0 L181.9,564.8 L205.0,565.0 L207.0,563.2 L309.3,562.6" fill="none" stroke="#ff0000" stroke-width="1.4" stroke-linejoin="round" clip-path="url(#cb)"/>
<path d="M200.9,893.0 L204.5,538.0 L212.8,538.0 L247.5,537.7 L249.5,536.4 L337.8,536.4" fill="none" stroke="#0000ff" stroke-width="1.4" stroke-linejoin="round" clip-path="url(#cb)"/>
<path d="M207.4,893.0 L219.3,535.2 L224.7,534.8 L229.5,532.8 L295.4,532.8 L297.0,531.6 L313.4,531.6" fill="none" stroke="#bf00bf" stroke-width="1.4" stroke-linejoin="round" clip-path="url(#cb)"/>
<path d="M313.4,531.6 C314.2,532.1 316.8,533.6 318.5,534.8 C320.2,536.0 321.6,538.0 323.7,539.0 C325.8,540.0 328.6,540.0 331.4,540.5 C334.2,541.0 338.2,540.7 340.4,541.8 C342.6,542.9 343.5,545.0 344.8,547.0 C346.1,549.0 347.2,551.4 348.0,554.0 C348.8,556.6 349.1,561.0 349.3,562.4" fill="none" stroke="#bf00bf" stroke-width="1.4" stroke-linejoin="round" clip-path="url(#cb)"/>
<path d="M184.5,893.0 L185.3,555.4 L194.0,555.6 L210.3,554.9 L212.0,554.5 L320.4,554.7" fill="none" stroke="#000000" stroke-width="1.4" stroke-linejoin="round" clip-path="url(#cb)"/>
<path d="M228.3,893.0 L228.9,544.6 L238.3,545.0" fill="none" stroke="#00bfbf" stroke-width="1.4" stroke-linejoin="round" clip-path="url(#cb)"/>
<path d="M238.3,545.0 C239.3,544.6 242.4,544.0 244.3,542.5 C246.2,541.0 247.8,537.4 250.0,536.0 C252.2,534.6 252.9,534.9 257.8,533.9 C262.7,532.9 271.3,530.7 279.6,530.0 C287.9,529.3 302.3,529.1 307.8,529.6 C313.3,530.1 311.1,531.0 312.5,532.8 C313.9,534.6 315.4,537.1 316.5,540.5 C317.6,543.9 318.3,548.7 319.3,553.4 C320.3,558.1 321.3,563.7 322.6,568.8 C323.9,573.9 324.7,577.5 327.3,584.1 C329.9,590.7 334.2,601.2 338.5,608.2 C342.8,615.2 348.2,620.7 353.0,625.8 C357.8,630.9 363.1,634.9 367.4,638.7 C371.7,642.5 376.8,647.0 378.7,648.6" fill="none" stroke="#00bfbf" stroke-width="1.4" stroke-linejoin="round" clip-path="url(#cb)"/>
<path d="M52.1,893.0 L380.3,893.0 L380.3,613.5 L392.4,614.0" fill="none" stroke="#bfbf00" stroke-width="1.4" stroke-linejoin="round" clip-path="url(#cb)"/>
<path d="M392.4,614.0 C393.9,613.7 397.5,612.5 401.2,612.2 C404.9,611.9 412.4,612.2 414.6,612.2" fill="none" stroke="#bfbf00" stroke-width="1.4" stroke-linejoin="round" clip-path="url(#cb)"/>
<path d="M414.6,612.2 C418.6,615.1 433.2,623.8 438.3,629.5 C443.4,635.2 442.1,637.8 445.3,646.5 C448.5,655.2 452.1,669.4 457.7,681.8 C463.3,694.1 470.7,709.4 478.9,720.6 C487.1,731.8 498.3,741.8 507.1,748.9 C515.9,756.0 524.7,759.5 531.8,763.0 C538.9,766.5 546.5,768.8 549.5,770.0" fill="none" stroke="#bfbf00" stroke-width="1.4" stroke-linejoin="round" clip-path="url(#cb)"/>
<circle cx="164.8" cy="567.0" r="3.5" fill="none" stroke="#008000" stroke-width="1.3"/>
<path d="M163.0,563.2 L170.6,570.8 M163.0,570.8 L170.6,563.2" stroke="#008000" stroke-width="1.105" fill="none"/>
<rect x="286.2" y="561.8" width="6.8" height="6.8" fill="none" stroke="#008000" stroke-width="1.2"/>
<circle cx="181.9" cy="564.8" r="3.5" fill="none" stroke="#ff0000" stroke-width="1.3"/>
<path d="M180.1,561.0 L187.7,568.6 M180.1,568.6 L187.7,561.0" stroke="#ff0000" stroke-width="1.105" fill="none"/>
<rect x="306.1" y="559.0" width="6.8" height="6.8" fill="none" stroke="#ff0000" stroke-width="1.2"/>
<circle cx="212.8" cy="538.0" r="3.5" fill="none" stroke="#0000ff" stroke-width="1.3"/>
<path d="M211.0,534.2 L218.6,541.8 M211.0,541.8 L218.6,534.2" stroke="#0000ff" stroke-width="1.105" fill="none"/>
<rect x="334.4" y="533.0" width="6.8" height="6.8" fill="none" stroke="#0000ff" stroke-width="1.2"/>
<circle cx="224.7" cy="534.8" r="3.5" fill="none" stroke="#bf00bf" stroke-width="1.3"/>
<path d="M222.9,531.0 L230.5,538.6 M222.9,538.6 L230.5,531.0" stroke="#bf00bf" stroke-width="1.105" fill="none"/>
<rect x="344.4" y="550.6" width="6.8" height="6.8" fill="none" stroke="#bf00bf" stroke-width="1.2"/>
<circle cx="193.6" cy="555.6" r="3.5" fill="none" stroke="#000000" stroke-width="1.3"/>
<path d="M191.8,551.8 L199.4,559.4 M191.8,559.4 L199.4,551.8" stroke="#000000" stroke-width="1.105" fill="none"/>
<rect x="317.0" y="551.3" width="6.8" height="6.8" fill="none" stroke="#000000" stroke-width="1.2"/>
<circle cx="238.3" cy="545.0" r="3.5" fill="none" stroke="#00bfbf" stroke-width="1.3"/>
<path d="M236.5,541.2 L244.1,548.8 M236.5,548.8 L244.1,541.2" stroke="#00bfbf" stroke-width="1.105" fill="none"/>
<rect x="375.3" y="645.2" width="6.8" height="6.8" fill="none" stroke="#00bfbf" stroke-width="1.2"/>
<circle cx="391.2" cy="614.3" r="3.5" fill="none" stroke="#bfbf00" stroke-width="1.3"/>
<path d="M389.4,610.5 L397.0,618.1 M389.4,618.1 L397.0,610.5" stroke="#bfbf00" stroke-width="1.105" fill="none"/>
<rect x="546.1" y="766.6" width="6.8" height="6.8" fill="none" stroke="#bfbf00" stroke-width="1.2"/>
<text x="320.0" y="943.3" font-size="12.30" text-anchor="middle" fill="#000" textLength="58.1" lengthAdjust="spacingAndGlyphs">Age [Myr]</text>
<g transform="translate(21.9,802.5) rotate(-90)">
<text x="0" y="0" font-size="12.30" textLength="166.3" lengthAdjust="spacingAndGlyphs">The mass of helium core [M</text>
<circle cx="172.4" cy="-1.0" r="2.45" fill="none" stroke="#000" stroke-width="1.0"/>
<circle cx="172.4" cy="-1.0" r="0.75" fill="#000" opacity="0.6"/>
<text x="177.8" y="-0.6" font-size="11.81" textLength="3.2" lengthAdjust="spacingAndGlyphs">]</text>
</g>
<path d="M527.1,527.4 L552.2,527.4" stroke="#008000" stroke-width="1.4"/>
<text x="562.1" y="531.9" font-size="12.40" text-anchor="start" fill="#000" textLength="14.6" lengthAdjust="spacingAndGlyphs">B1</text>
<path d="M527.1,545.0 L552.2,545.0" stroke="#ff0000" stroke-width="1.4"/>
<text x="562.1" y="549.5" font-size="12.40" text-anchor="start" fill="#000" textLength="14.6" lengthAdjust="spacingAndGlyphs">B2</text>
<path d="M527.1,562.6 L552.2,562.6" stroke="#0000ff" stroke-width="1.4"/>
<text x="562.1" y="567.1" font-size="12.40" text-anchor="start" fill="#000" textLength="14.6" lengthAdjust="spacingAndGlyphs">B3</text>
<path d="M527.1,580.3 L552.2,580.3" stroke="#bf00bf" stroke-width="1.4"/>
<text x="562.1" y="584.8" font-size="12.40" text-anchor="start" fill="#000" textLength="14.6" lengthAdjust="spacingAndGlyphs">B4</text>
<path d="M527.1,597.9 L552.2,597.9" stroke="#000000" stroke-width="1.4"/>
<text x="562.1" y="602.4" font-size="12.40" text-anchor="start" fill="#000" textLength="14.6" lengthAdjust="spacingAndGlyphs">B5</text>
<path d="M527.1,615.5 L552.2,615.5" stroke="#00bfbf" stroke-width="1.4"/>
<text x="562.1" y="620.0" font-size="12.40" text-anchor="start" fill="#000" textLength="14.6" lengthAdjust="spacingAndGlyphs">B6</text>
<path d="M527.1,633.1 L552.2,633.1" stroke="#bfbf00" stroke-width="1.4"/>
<text x="562.1" y="637.6" font-size="12.40" text-anchor="start" fill="#000" textLength="14.6" lengthAdjust="spacingAndGlyphs">B7</text>
<text x="551.4" y="663.2" font-size="14.60" text-anchor="start" fill="#000" textLength="18.8" lengthAdjust="spacingAndGlyphs" style="stroke-width:0.12px">(b)</text>
</svg></body></html>
